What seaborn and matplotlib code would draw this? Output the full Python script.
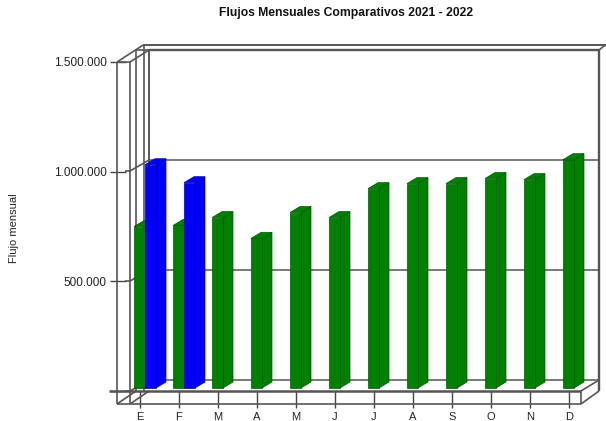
import numpy as np
import pandas as pd
import matplotlib
matplotlib.use("Agg")
import matplotlib.pyplot as plt
from matplotlib.transforms import Affine2D, IdentityTransform
import seaborn as sns

meses = ["E", "F", "M", "A", "M", "J", "J", "A", "S", "O", "N", "D"]
serie_2021 = [736000, 741000, 777000, 682000, 800000, 777000, 909000, 932000, 932000, 955000, 950000, 1041000]
serie_2022 = [1018000, 936000]
ticks_y = [0, 500000, 1000000, 1500000]
ticks_y_txt = ["", "500.000", "1.000.000", "1.500.000"]
titulo = "Flujos Mensuales Comparativos 2021 - 2022"
etiqueta_y = "Flujo mensual"

W, H = 606, 421
sns.set_theme(style="white")
plt.rcParams["font.family"] = ["Liberation Sans", "DejaVu Sans"]

df = pd.concat([
    pd.DataFrame({"mes": range(len(serie_2021)), "flujo": serie_2021, "serie": "2021"}),
    pd.DataFrame({"mes": range(len(serie_2022)), "flujo": serie_2022, "serie": "2022"}),
])

fig = plt.figure(figsize=(W / 100, H / 100), dpi=100, facecolor="white")
LEFT, RIGHT, TOP, BOTTOM = 125.5, 593.5, 62, 391
ax = fig.add_axes([LEFT / W, (H - BOTTOM) / H, (RIGHT - LEFT) / W, (BOTTOM - TOP) / H])
COLORS = {"2021": "#008000", "2022": "#0000ff"}
EDGES = {"2021": "#005a00", "2022": "#0000b0"}
sns.barplot(data=df, x="mes", y="flujo", hue="serie", hue_order=["2021", "2022"],
            palette=COLORS, saturation=1, errorbar=None, dodge=True, width=22 / 39,
            legend=False, ax=ax, linewidth=0)
ax.set_xlim(-0.5, 11.5)
ax.set_ylim(0, 1500000)
for s in ax.spines.values():
    s.set_visible(False)
ax.set_facecolor("none")

# ---- frame of the 3D box, in image pixels
px = Affine2D().scale(1, -1).translate(0, H)
FC = "#555555"
def seg(x0, y0, x1, y1, lw=1.2, c=FC):
    ax.plot([x0, x1], [y0, y1], color=c, lw=lw, transform=px, clip_on=False, zorder=1, solid_capstyle="butt")

# back wall
seg(144, 44.5, 606, 44.5, 1.4)
seg(149, 50, 599, 50, 1.7)
seg(606, 44.5, 599, 50)
for y in (160, 270, 380):
    seg(149, y, 599, y, 1.1)
seg(149, 50, 149, 380, 1.4)
seg(599, 50, 599, 391, 1.7)
seg(144, 44.5, 144, 391)
# left wall
seg(117, 62, 117, 404)
seg(130, 62, 130, 404)
seg(136, 50, 136, 391)
seg(117, 62, 144, 44.5)
seg(130, 62, 149, 50)
seg(117, 62, 130, 62)
seg(136, 50, 149, 50)
for y, yb in ((171, 160), (281, 270), (391, 380)):
    seg(125, y, 130, y)
    seg(130, y, 149, yb)
# floor
seg(109, 391, 581, 391, 1.8)
seg(117, 404, 581, 404, 1.2)
seg(117, 404, 136, 391)
seg(130, 404, 149, 391)
seg(581, 391, 581, 404)
seg(581, 404, 599, 391)
seg(581, 391, 599, 380)

# ---- depth faces of the bars, derived from the seaborn bars
DX, DY, LIFT = 10, 6, 3
bars = [p for p in ax.patches if np.isfinite(p.get_height()) and p.get_height() > 0]
for p in bars:
    is_blue = matplotlib.colors.to_hex(p.get_facecolor()) == COLORS["2022"]
    key = "2022" if is_blue else "2021"
    z = 5 if is_blue else 3
    (x0, y0), (x1, y1) = ax.transData.transform([(p.get_x(), 0), (p.get_x() + p.get_width(), p.get_height())])
    y0 += LIFT
    y1 += LIFT
    p.set_xy((p.get_x(), 0))
    p.set_transform(ax.transData + Affine2D().translate(0, LIFT))
    p.set_edgecolor(EDGES[key])
    p.set_linewidth(0.5)
    p.set_zorder(z + 1)
    p.set_clip_on(False)
    ax.fill([x1, x1 + DX, x1 + DX, x1], [y0, y0 + DY, y1 + DY, y1], fc=COLORS[key], ec=EDGES[key],
            lw=0.5, transform=IdentityTransform(), clip_on=False, zorder=z)
    ax.fill([x0, x1, x1 + DX, x0 + DX], [y1, y1, y1 + DY, y1 + DY], fc=COLORS[key], ec=EDGES[key],
            lw=0.5, transform=IdentityTransform(), clip_on=False, zorder=z)

ax.set_xlim(-0.5, 11.5)
ax.set_ylim(0, 1500000)

# ---- axes text
ax.set_xticks(np.arange(len(meses)) - 5 / 39)
ax.set_xticklabels(meses)
ax.set_yticks(ticks_y)
ax.set_yticklabels(ticks_y_txt)
ax.tick_params(axis="x", bottom=True, length=12.5, width=1.0, color="#444444", pad=2.5, labelsize=8, labelcolor="#222222")
ax.tick_params(axis="y", left=True, length=11.5, width=1.0, color="#444444", pad=2, labelsize=8.5, labelcolor="#222222")
ax.set_xlabel("")
ax.set_ylabel("")
fig.text(346.5 / W, 1 - 13 / H, titulo, ha="center", va="center", fontsize=8.7, fontweight="bold", color="#111111")
fig.text(14 / W, 1 - 228 / H, etiqueta_y, ha="center", va="center", rotation=90, fontsize=8, color="#222222")

fig.savefig("out.png", dpi=100)
